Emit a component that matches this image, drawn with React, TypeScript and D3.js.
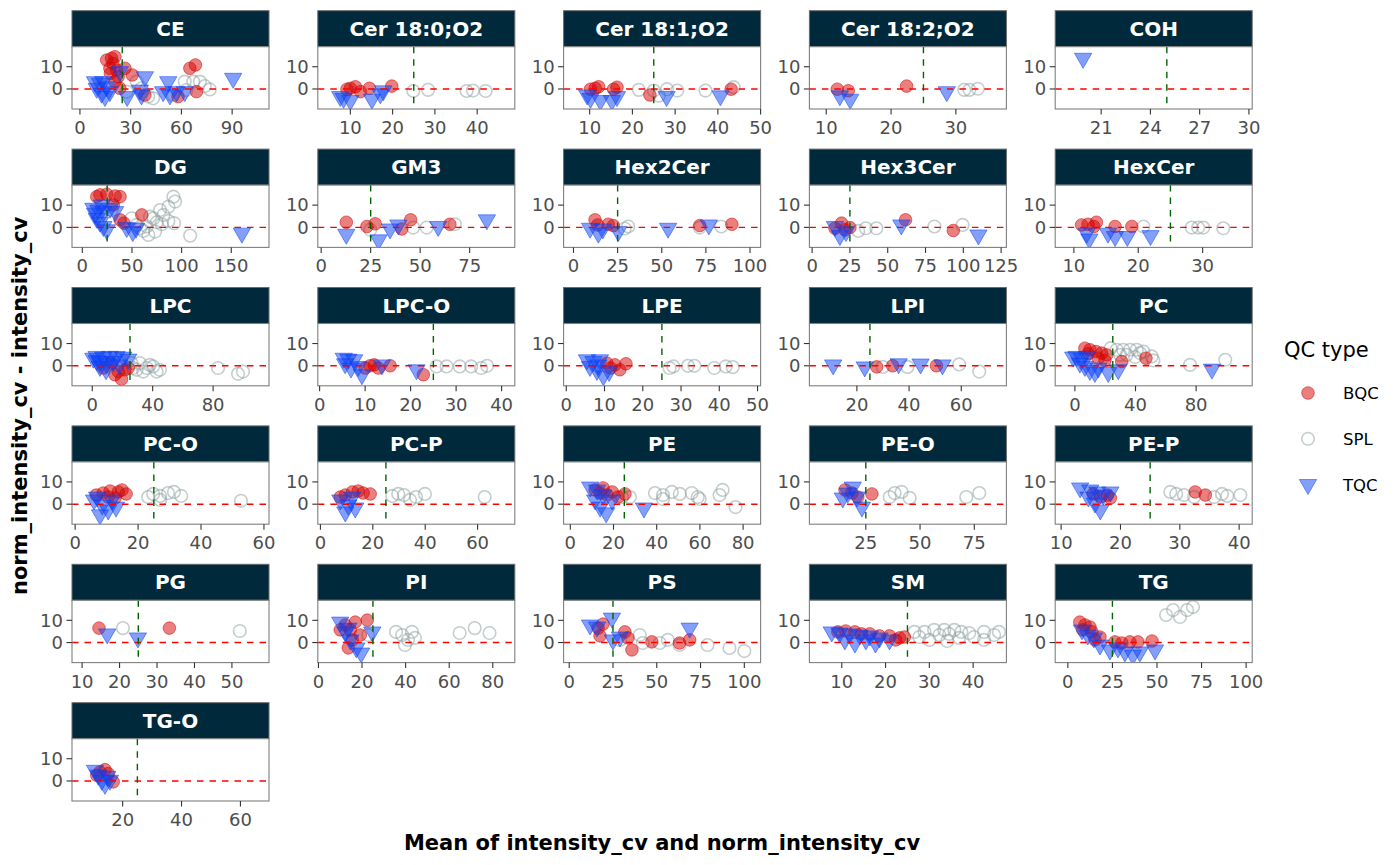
import * as d3 from 'd3'

type Pt = [number, number]

// lipid classes, one facet each (5 per row)
const classes = [
  'CE', 'Cer 18:0;O2', 'Cer 18:1;O2', 'Cer 18:2;O2', 'COH',
  'DG', 'GM3', 'Hex2Cer', 'Hex3Cer', 'HexCer',
  'LPC', 'LPC-O', 'LPE', 'LPI', 'PC',
  'PC-O', 'PC-P', 'PE', 'PE-O', 'PE-P',
  'PG', 'PI', 'PS', 'SM', 'TG',
  'TG-O',
]

// free x scales per facet
const xDomains: Record<string, [number, number]> = {
  CE: [-4.7, 111.8],
  'Cer 18:0;O2': [2.3, 48.9],
  'Cer 18:1;O2': [3.9, 50.0],
  'Cer 18:2;O2': [7.4, 37.8],
  COH: [18.2, 30.2],
  DG: [-10.4, 188],
  GM3: [-1.7, 97.8],
  Hex2Cer: [-5.6, 106],
  Hex3Cer: [-1.8, 128.5],
  HexCer: [7.1, 37.7],
  LPC: [-13.4, 117],
  'LPC-O': [-0.4, 42.9],
  LPE: [-0.7, 50.8],
  LPI: [1.8, 77.3],
  PC: [-13, 117],
  'PC-O': [-1, 61.6],
  'PC-P': [-1, 74.2],
  PE: [-3.1, 88.1],
  'PE-O': [-1, 89.8],
  'PE-P': [9.0, 42.2],
  PG: [7.3, 59.9],
  PI: [-0.3, 90.1],
  PS: [-3.2, 109.3],
  SM: [2.6, 47.6],
  TG: [-7.1, 103.4],
  'TG-O': [2.8, 69.7],
}

const xTicks: Record<string, number[]> = {
  CE: [0, 30, 60, 90],
  'Cer 18:0;O2': [10, 20, 30, 40],
  'Cer 18:1;O2': [10, 20, 30, 40, 50],
  'Cer 18:2;O2': [10, 20, 30],
  COH: [21, 24, 27, 30],
  DG: [0, 50, 100, 150],
  GM3: [0, 25, 50, 75],
  Hex2Cer: [0, 25, 50, 75, 100],
  Hex3Cer: [0, 25, 50, 75, 100, 125],
  HexCer: [10, 20, 30],
  LPC: [0, 40, 80],
  'LPC-O': [0, 10, 20, 30, 40],
  LPE: [0, 10, 20, 30, 40, 50],
  LPI: [20, 40, 60],
  PC: [0, 40, 80],
  'PC-O': [0, 20, 40, 60],
  'PC-P': [0, 20, 40, 60],
  PE: [0, 20, 40, 60, 80],
  'PE-O': [25, 50, 75],
  'PE-P': [10, 20, 30, 40],
  PG: [10, 20, 30, 40, 50],
  PI: [0, 20, 40, 60, 80],
  PS: [0, 25, 50, 75, 100],
  SM: [10, 20, 30, 40],
  TG: [0, 25, 50, 75, 100],
  'TG-O': [20, 40, 60],
}

const yDomain: [number, number] = [-9, 19]
const yTicks = [0, 10]
const cvThreshold = 25

// [mean cv, cv difference] per class
const bqc: Record<string, Pt[]> = {
  CE: [[18.7, 13.8], [20.7, 14.5], [15.8, 13], [19.5, 11.5], [17.7, 9.3], [21.7, 8.5], [18, 7], [22.6, 5.5], [26.6, 9.3], [30.9, 6.3], [20.7, 3.3], [23.6, 0.3], [65, 9.3], [68.3, 10.8], [68.9, -1.2], [58, -3.4], [38.4, -2.7]],
  'Cer 18:0;O2': [[10, 0.3], [11.2, 1.0], [12.4, -1.2], [14.5, 0.3], [19.8, 1.3], [9.2, -0.1]],
  'Cer 18:1;O2': [[10.2, -0.1], [11.3, 0.3], [12.1, 1.0], [15.6, -0.1], [16.4, 0.8], [24.1, -2.7], [43.1, -0.1]],
  'Cer 18:2;O2': [[11.7, -0.1], [13.4, -0.8], [22.4, 1.3]],
  COH: [],
  DG: [[17.8, 14.6], [24.6, 14.9], [33, 14.1], [38, 13.8], [14.5, 13.8], [38, 3.4], [42, 1.9], [59.9, 5.6], [31.2, 10.1]],
  GM3: [[12.7, 2.3], [23.1, 0.4], [27.3, 1.6], [40.7, -0.7], [45.2, 3.4], [65, 1.4]],
  Hex2Cer: [[12.2, 3.4], [13.7, 1.1], [19.7, 1.4], [22.6, 0.8], [71.5, 0.8], [89.7, 1.4]],
  Hex3Cer: [[15.1, -0.4], [19.5, 1.9], [21.7, -1.1], [25, -0.1], [61.8, 3.4], [93.4, -1.4]],
  HexCer: [[11.2, 1.1], [12.2, 1.4], [13.1, 0.4], [13.5, 2.3], [16.4, 0.4], [19, 0.4]],
  LPC: [[12.8, 1.2], [15, -4], [19.4, -6], [21.6, -1.8], [7.3, -1], [23.8, -1], [17.2, -2.6]],
  'LPC-O': [[10, -1], [11.1, 0], [12, 0.4], [12.9, -1], [15.5, 0], [22.8, -4]],
  LPE: [[10.6, 1.2], [12.7, 0.4], [14, -1.8], [15.6, 0.9], [11.6, -1]],
  LPI: [[27.6, -0.5], [33.7, 0], [50.5, 0]],
  PC: [[6.6, 7.9], [9.9, 7.2], [13.9, 6.4], [17.7, 5.7], [21, 4.9], [8.8, 5.4], [15.4, 3.4], [19.8, 2.4], [30.9, 1.9], [46.9, 3.4]],
  'PC-O': [[8.9, 5.0], [11.1, 5.9], [13.7, 5.5], [16.2, 4.6], [10.5, 3.2], [12.7, 2.8], [14.9, 6.4], [6.7, 4.1]],
  'PC-P': [[9.5, 4.1], [12.2, 5.5], [14.4, 5.9], [16.3, 5.0], [19, 4.6], [7.6, 3.2]],
  PE: [[11.5, 6.4], [13.8, 5], [17, 4.1], [19.4, 5.5], [22.1, 3.2], [25.3, 4.6], [15.2, 7.3]],
  'PE-O': [[15.4, 6.4], [18.6, 5], [21.3, 3.2], [27.8, 4.6]],
  'PE-P': [[16.6, 3.2], [17.8, 4.1], [18.3, 2.8], [32.6, 5.5], [34.3, 4.1], [15.4, 4.6]],
  PG: [[14.5, 6.5], [33.3, 6.5]],
  PI: [[12.3, 7.9], [14.6, 5.7], [15.5, 1.2], [16.9, 9.2], [19.2, 3.4], [10, 5.7], [22.4, 10.1], [13.7, -2.4]],
  PS: [[16.5, 6.5], [19.3, 8.3], [31.8, 4.8], [35.8, -3.3], [47.2, 0.3], [63, -0.2], [68.8, 1.2], [17.6, 3], [33.5, 2.1]],
  SM: [[9.1, 4.8], [10.9, 5.2], [13, 4.8], [14.5, 3.9], [16.4, 3.9], [18.6, 3], [20.9, 3], [23.2, 2.1], [24.3, 2.5], [22.3, 1.2]],
  TG: [[6.7, 9.2], [9.6, 7.9], [12.4, 7], [8.4, 5.7], [13.5, 4.8], [18, 2.5], [26.4, 0.3], [30.3, -0.2], [34.8, 0.3], [39.3, 0.3], [47.2, 0.7], [15.2, 1.2]],
  'TG-O': [[12.3, 4.0], [14, 5.1], [15.1, 3.3], [16.8, -0.4], [11.2, 2.6]],
}

const spl: Record<string, Pt[]> = {
  CE: [[33.5, 3.3], [36.4, 0.3], [43.3, -4.2], [40.4, -3.4], [62, 3.3], [67, 3.3], [70.9, 3.3], [73.8, 1.3], [76.8, -0.2], [63, -0.5], [27.6, -1.2], [55, -2.7]],
  'Cer 18:0;O2': [[24.9, -0.9], [28.4, -0.4], [37.5, -0.9], [39, -0.7], [42, -0.9]],
  'Cer 18:1;O2': [[21.5, -0.4], [25, -0.7], [26.2, -3], [28.1, -0.1], [30.5, -0.7], [37.1, -0.7], [43.7, 0.8]],
  'Cer 18:2;O2': [[31.3, -0.4], [32.1, -0.4], [33.4, 0.1]],
  COH: [],
  DG: [[91.7, 13.8], [93.4, 11.6], [86.7, 9.3], [78.3, 7.8], [81.7, 5.6], [71.6, 4.1], [75, 2.3], [64.9, 0.4], [61.5, -1.6], [66.5, -3.4], [73.3, -1.9], [80, 1.4], [86.7, 2.9], [92.4, 1.9], [68.2, 4.8], [54.8, 1.1], [108.6, -3.7], [29.6, 7.8], [49.8, 4.1], [58.2, -0.4]],
  GM3: [[24.8, -1.1], [46.5, -0.1], [53.3, -0.1], [67.5, 1.4]],
  Hex2Cer: [[31, 0.4], [71.5, -0.1], [83.7, 0.4], [29, -0.5]],
  Hex3Cer: [[30.5, -1.6], [35.5, -0.4], [42.5, -0.4], [80.9, 0.4], [99.5, 1.1]],
  HexCer: [[20.8, 0.4], [28.3, -0.1], [29.3, -0.1], [30.1, -0.1], [33.2, -0.4]],
  LPC: [[13.9, 1.9], [26, 1.2], [31.5, 1.2], [36, -1], [40.3, -0.3], [44.8, -1.8], [29.4, -1.8], [33.7, -2.6], [42.6, -2.6], [83.3, -1], [96.5, -3.6], [99.8, -2.6], [27.1, -1], [38.1, 0.4]],
  'LPC-O': [[25.7, -0.3], [27.9, -0.3], [30.8, -0.3], [33.3, -0.3], [35.5, -1], [36.8, 0]],
  LPE: [[27, -1], [28, -0.3], [31.8, 0], [33.5, 0], [38.7, -1], [41.7, -0.3], [43.5, -0.6]],
  LPI: [[39.4, -0.5], [59.2, 0.6], [66.9, -2.6], [29.9, -0.5]],
  PC: [[23.6, 7.9], [27.6, 7.2], [31.9, 7.2], [36.4, 7.2], [40.8, 7.2], [45.2, 6.4], [50.7, 4.2], [51.8, 2.4], [34.2, 4.9], [39.7, 3.9], [76, 0.4], [99.2, 2.7], [29.8, 4.9], [43, 5.7]],
  'PC-O': [[23.2, 3.2], [27, 3.7], [29.5, 5], [31.4, 5.5], [33.7, 3.7], [27, 1.9], [52.7, 1.5], [24.8, 4.6]],
  'PC-P': [[27.4, 3.7], [29.7, 4.6], [31.9, 4.1], [34.2, 1.9], [36.5, 3.2], [39.9, 4.6], [62.7, 3.2]],
  PE: [[24, 3.2], [27.6, 3.2], [39.2, 5], [42.9, 4.1], [47, 5.5], [50.7, 4.6], [56.2, 5], [59, 3.2], [69.1, 4.1], [70.5, 6.4], [76.5, -1.3], [59.9, 2.3], [42.9, 2.3]],
  'PE-O': [[36, 3.2], [38.3, 5], [41.5, 5.5], [45.2, 2.8], [71.3, 3.2], [77.3, 5]],
  'PE-P': [[28.4, 5.5], [29.4, 4.6], [30.7, 4.1], [32.4, 3.2], [35.8, 3.2], [37.1, 4.6], [38, 3.7], [40.2, 4.1]],
  PG: [[20.9, 6.5], [52.1, 5.2]],
  PI: [[22.8, 3.4], [35.6, 4.8], [38.4, 3.4], [41.1, 1.2], [42.9, 4.8], [44.3, 2.1], [64.8, 4.3], [71.7, 6.5], [78.5, 4.3], [39.7, -1.1]],
  PS: [[29, 1.2], [40.3, 3.4], [42, -0.2], [51.7, -0.2], [56.3, 1.2], [63, -1.1], [79, -1.1], [91.5, -2.4], [100, -3.8]],
  SM: [[26.6, 4.8], [28.9, 4.8], [31.1, 5.7], [33.4, 5.7], [35.7, 5.7], [37.3, 4.8], [39.1, 4.3], [42.5, 4.8], [44.8, 3.4], [45.9, 4.8], [27.7, 2.5], [32.3, 3.4], [34.5, 3.9], [36.8, 2.1], [40.2, 2.5], [42.5, 1.2], [30, 1.2], [34.1, 0.7]],
  TG: [[59, 14.6], [62.9, 11.5], [66.9, 14.6], [70.2, 16], [55.1, 12.4]],
  'TG-O': [],
}

const tqc: Record<string, Pt[]> = {
  CE: [[11.8, 2.6], [9.9, 0.3], [12.8, -1.9], [14.8, -3.4], [15.8, 1.0], [17.7, -1.2], [8.9, 3.3], [13.8, 3.3], [23.6, 7.8], [27.9, -3.4], [38.4, 5.5], [35.4, -0.5], [36.4, -2.7], [52.2, 3.3], [49.2, -1.2], [53.2, -2.7], [57.1, -1.2], [62, -1.2], [90.6, 4.8]],
  'Cer 18:0;O2': [[8.4, -4.2], [10, -5.2], [15.1, -4.6], [17.1, -2.2], [17.8, -0.8], [7.6, -3.4]],
  'Cer 18:1;O2': [[10.2, -4.2], [12.5, -5.2], [15.2, -5.2], [16.4, -3.4], [28, -3.4], [40.6, -3.1], [9.4, -2.7]],
  'Cer 18:2;O2': [[12.1, -3.1], [13.7, -4.6], [28.6, -1.2]],
  COH: [[19.9, 13.8]],
  DG: [[11.1, 8.6], [16.1, 7.8], [21.2, 7.1], [14.5, 4.1], [17.8, 2.3], [21.2, 0.4], [24.6, -1.1], [28, 8.6], [33, 7.1], [12.8, 6.4], [44.7, -0.1], [50.8, -1.9], [54.1, -0.4], [160.7, -2.6], [19.6, 10.1]],
  GM3: [[12.7, -3.1], [29, -5.6], [34.8, -0.7], [39, 1.1], [59.1, 0.4], [83.7, 3.4]],
  Hex2Cer: [[9.4, -0.4], [14.1, -2.6], [16.6, -0.7], [25.4, -1.9], [53.6, -0.4], [76.7, 1.1]],
  Hex3Cer: [[15.1, 0.4], [18.4, -3.7], [22.4, -1.9], [59, 1.1], [110, -3.4]],
  HexCer: [[12, -2.6], [12.4, -5.2], [15.3, -2.6], [16.4, -4.1], [18.3, -4.1], [21.9, -3.7]],
  LPC: [[2.9, 4.2], [7.3, 3.9], [11.7, 4.2], [16.1, 4.2], [20.5, 3.9], [23.8, 3.0], [5.1, 1.9], [9.5, 0.9], [13.9, 1.9], [5.1, -0.3], [9.1, -1.8], [2.9, 2.4], [17.9, 0.4], [0.7, 3.4]],
  'LPC-O': [[5.3, 3.4], [6.3, 3.0], [7.6, 2.7], [5.6, 0.9], [6.9, -1], [8.5, -0.3], [9.3, -4], [13.7, 0.4], [21.3, -1.8]],
  LPE: [[5.4, 2.7], [7.1, 1.9], [8.8, 2.7], [6.2, -0.3], [8, -2.1], [9.7, -4.5], [11.2, -2.6], [8.4, 0.4]],
  LPI: [[10.9, 0.4], [23, -0.5], [36, 0.9], [44.4, 0.8], [52.8, 0.4]],
  PC: [[1.1, 4.2], [4.4, 3.4], [7.7, 4.2], [3.3, 1.2], [6.6, -0.3], [9.9, -2.1], [13.2, -3], [15.4, -1], [22, -3], [28.6, -1.8], [90.4, -1.5], [-1.1, 3.9]],
  'PC-O': [[7, 3.2], [8.6, -0.4], [10.5, -2.6], [13, -1.3], [7.9, -4.8], [11.7, 1.9], [6, 1.9]],
  'PC-P': [[7.6, 1.9], [10.6, -0.4], [13.3, -1.7], [9.5, -3.5], [12.2, 3.2]],
  PE: [[9.2, 7.7], [12.4, 6.4], [15.2, 4.1], [11.5, 1.9], [13.8, -1.3], [16.6, -3.9], [34.1, -1.7], [19.4, 1.9]],
  'PE-O': [[16.7, 5], [19, 7.7], [20.9, 3.2], [23.2, -1.3], [14.4, 2.8]],
  'PE-P': [[13.2, 7.3], [14.9, 6.4], [16.1, 5.5], [17.1, 4.1], [18.3, 5.5], [14.6, 3.2], [15.7, 0.5], [16.6, -2.6]],
  PG: [[16.7, 3.9], [24.9, 2.1]],
  PI: [[10, 9.2], [12.3, 4.8], [14.6, 1.2], [17.4, -2.4], [19.6, -4.7], [13.7, 6.5], [24.7, 4.8]],
  PS: [[11.9, 7.9], [15.9, 7], [24.4, 11], [25, 1.2], [68.8, 6.5], [29, 2.5]],
  SM: [[7.7, 4.8], [9.5, 4.3], [11.8, 3.9], [14.1, 3.4], [16.4, 3], [18.6, 2.1], [20.9, 1.2], [10.7, 1.2], [13, -0.2], [15.5, 1.2], [17.7, -0.2]],
  TG: [[7.9, 5.7], [11.2, 3.4], [14.6, 2.1], [18, -1.1], [23.6, -3.3], [28.1, -2.4], [32, -4.2], [36.5, -5.6], [40.4, -4.2], [48.9, -3.3]],
  'TG-O': [[10.6, 4.8], [11.7, 2.6], [12.9, 0.3], [14, -1.5], [15.7, 0.3], [14.8, 2.1]],
}

const qcTypes = ['BQC', 'SPL', 'TQC']

// layout
const FONT = 'DejaVu Sans'
const PANEL_W = 197
const PANEL_H = 62.3
const STRIP_H = 36
const COL_STEP = 245.8
const ROW_STEP = 138.4
const LEFT0 = 72
const TOP0 = 10.7
const N_COLS = 5

const STRIP_FILL = '#01293c'
const BQC_COL = '#d40000'
const SPL_COL = '#8c9d9d'
const TQC_COL = '#0a3ff5'

const R_CIRCLE = 6.3
const R_TRI = 10

function triangle(r: number) {
  const hw = r * Math.sqrt(3) / 2
  return `M${-hw},${-r / 2}L${hw},${-r / 2}L0,${r}Z`
}

function Marker({ type, x, y }: { type: string; x: number; y: number }) {
  if (type === 'BQC')
    return (
      <circle cx={x} cy={y} r={R_CIRCLE} fill={BQC_COL} fillOpacity={0.5}
        stroke={BQC_COL} strokeOpacity={0.5} strokeWidth={1} />
    )
  if (type === 'SPL')
    return (
      <circle cx={x} cy={y} r={R_CIRCLE} fill="none"
        stroke={SPL_COL} strokeOpacity={0.5} strokeWidth={1.6} />
    )
  return (
    <path d={triangle(R_TRI)} transform={`translate(${x},${y})`} fill={TQC_COL}
      fillOpacity={0.5} stroke={TQC_COL} strokeOpacity={0.5} strokeWidth={1} />
  )
}

function Facet({ name, index }: { name: string; index: number }) {
  const col = index % N_COLS
  const row = Math.floor(index / N_COLS)
  const left = LEFT0 + col * COL_STEP
  const stripTop = TOP0 + row * ROW_STEP
  const top = stripTop + STRIP_H

  const x = d3.scaleLinear().domain(xDomains[name]).range([0, PANEL_W])
  const y = d3.scaleLinear().domain(yDomain).range([PANEL_H, 0])
  const clipId = `clip-${index}`

  const layers: [string, Pt[]][] = [
    ['SPL', spl[name] || []],
    ['BQC', bqc[name] || []],
    ['TQC', tqc[name] || []],
  ]

  return (
    <g>
      <rect x={left} y={stripTop} width={PANEL_W} height={STRIP_H}
        fill={STRIP_FILL} stroke="#6b6b6b" strokeWidth={1} />
      <text x={left + PANEL_W / 2} y={stripTop + STRIP_H / 2 + 7}
        textAnchor="middle" fill="#fff" fontWeight="bold" fontSize={20}>
        {name}
      </text>
      <g transform={`translate(${left},${top})`}>
        <defs>
          <clipPath id={clipId}>
            <rect x={0} y={0} width={PANEL_W} height={PANEL_H} />
          </clipPath>
        </defs>
        <rect x={0} y={0} width={PANEL_W} height={PANEL_H} fill="#fff" />
        <g clipPath={`url(#${clipId})`}>
          {layers.map(([type, pts]) =>
            pts.map((p, j) => (
              <Marker key={`${type}-${j}`} type={type} x={x(p[0])} y={y(p[1])} />
            )),
          )}
          <line x1={0} x2={PANEL_W} y1={y(0)} y2={y(0)} stroke="#ff0000"
            strokeWidth={1.4} strokeDasharray="6.5,6" />
          <line x1={x(cvThreshold)} x2={x(cvThreshold)} y1={0} y2={PANEL_H}
            stroke="#006400" strokeWidth={1.4} strokeDasharray="6.5,6" />
        </g>
        <rect x={0} y={0} width={PANEL_W} height={PANEL_H} fill="none"
          stroke="#7f7f7f" strokeWidth={1.1} />
        {yTicks.map((t) => (
          <g key={`y${t}`}>
            <line x1={-5.5} x2={0} y1={y(t)} y2={y(t)} stroke="#333" strokeWidth={1.1} />
            <text x={-9} y={y(t) + 6.3} textAnchor="end" fontSize={18} fill="#4d4d4d">
              {t}
            </text>
          </g>
        ))}
        {xTicks[name].map((t) => (
          <g key={`x${t}`}>
            <line x1={x(t)} x2={x(t)} y1={PANEL_H} y2={PANEL_H + 5.5} stroke="#333" strokeWidth={1.1} />
            <text x={x(t)} y={PANEL_H + 25} textAnchor="middle" fontSize={18} fill="#4d4d4d">
              {t}
            </text>
          </g>
        ))}
      </g>
    </g>
  )
}

export default function App() {
  const legendY = d3.scalePoint<string>().domain(qcTypes).range([393, 484.5])
  const plotMid = LEFT0 + (COL_STEP * (N_COLS - 1) + PANEL_W) / 2
  const plotMidY = TOP0 + (ROW_STEP * 5 + STRIP_H + PANEL_H) / 2

  return (
    <svg width={1400} height={865} fontFamily={FONT}
      style={{ position: 'absolute', left: 0, top: 0, background: '#fff' }}>
      <rect width={1400} height={865} fill="#fff" />
      {classes.map((c, i) => (
        <Facet key={c} name={c} index={i} />
      ))}

      <text x={plotMid} y={850} textAnchor="middle" fontWeight="bold" fontSize={21} fill="#000">
        Mean of intensity_cv and norm_intensity_cv
      </text>
      <text transform={`translate(27,${plotMidY}) rotate(-90)`} textAnchor="middle"
        fontWeight="bold" fontSize={21} fill="#000">
        norm_intensity_cv - intensity_cv
      </text>

      <text x={1284} y={357} fontSize={21} fill="#000">QC type</text>
      {qcTypes.map((t) => (
        <g key={t}>
          <Marker type={t} x={1308} y={legendY(t) ?? 0} />
          <text x={1343} y={(legendY(t) ?? 0) + 6} fontSize={16.5} fill="#000">
            {t}
          </text>
        </g>
      ))}
    </svg>
  )
}
